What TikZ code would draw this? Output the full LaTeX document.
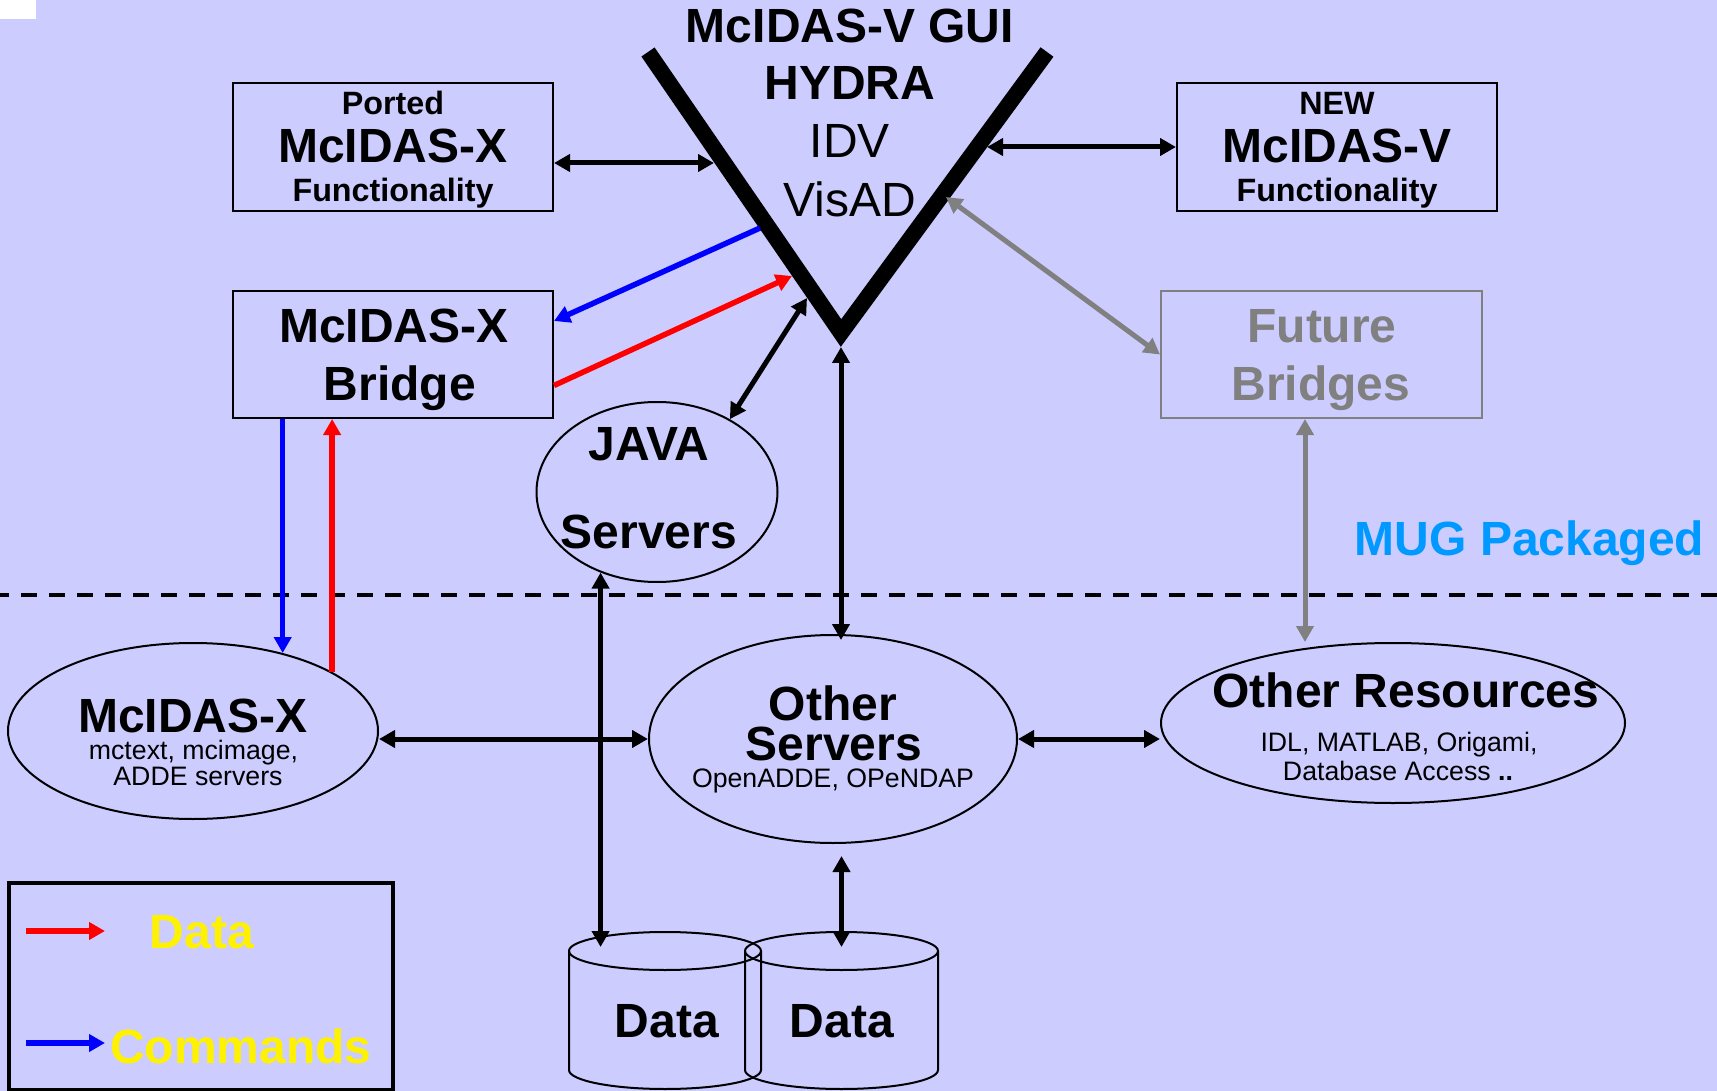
\documentclass[tikz,border=0pt]{standalone}
\usepackage{fontspec}
\setmainfont{Liberation Sans}
\usetikzlibrary{arrows.meta,shapes.geometric}
\definecolor{bgc}{RGB}{204,204,255}
\definecolor{mugblue}{RGB}{0,153,255}
\definecolor{fgray}{RGB}{128,128,128}
\newcommand\fsz[1]{\fontsize{#1}{#1}\selectfont}
\begin{document}
\begin{tikzpicture}[x=1pt,y=-1pt,
  >={Triangle[length=16pt,width=17pt]},
  txt/.style={inner sep=0pt, anchor=base},
  bld/.style={txt, font=\fsz{48}\bfseries},
  reg/.style={txt, font=\fsz{48}},
  mid/.style={txt, font=\fsz{32.3}\bfseries},
  sml/.style={txt, font=\fsz{26.7}},
  boxn/.style={draw, line width=2pt, inner sep=0pt, minimum width=320pt, minimum height=128pt},
  ell/.style={ellipse, draw, line width=2pt, inner sep=0pt},
  conn/.style={line width=5pt, <->},
  gconn/.style={line width=5pt, <->, draw=fgray, fill=fgray},
  cmd/.style={line width=5.5pt, ->, draw=blue, fill=blue},
  dat/.style={line width=5.5pt, ->, draw=red, fill=red},
  cyl/.style={line width=2pt}]

\fill[bgc] (0,0) rectangle (1717,1091);
\useasboundingbox (0,0) rectangle (1717,1091);
\fill[white] (0,0) rectangle (36,19);

% dashed boundary
\draw[line width=4pt, dash pattern=on 16pt off 12pt, dash phase=7pt] (0,595) -- (1717,595);

% boxes
\node[boxn] (ported) at (393,147) {};
\node[mid] (tporta) at (393,115) {Ported};
\node[bld] (tportb) at (393,163) {McIDAS-X};
\node[mid] (tportc) at (393,202) {Functionality};

\node[boxn] (newbox) at (1337,147) {};
\node[mid] (tnewa) at (1337,115) {NEW};
\node[bld] (tnewb) at (1337,163) {McIDAS-V};
\node[mid] (tnewc) at (1337,202) {Functionality};

\node[boxn, minimum height=127pt] (bridge) at (393,354.5) {};
\node[bld] (tbra) at (394,343) {McIDAS-X};
\node[bld] (tbrb) at (400,400) {Bridge};

\node[boxn, draw=fgray, minimum width=321pt, minimum height=127pt] (future) at (1321.5,354.5) {};
\node[bld, text=fgray] (tfua) at (1322,343) {Future};
\node[bld, text=fgray] (tfub) at (1321,400) {Bridges};

% V gui
\coordinate (vl) at (648,52);
\coordinate (vb) at (841,333);
\coordinate (vr) at (1047,52);
\draw[line width=16pt, line join=miter, miter limit=10] (vl) -- (vb) -- (vr);
\node[bld] (tva) at (850,43) {McIDAS-V GUI};
\node[bld] (tvb) at (850,100) {HYDRA};
\node[reg] (tvc) at (850,158) {IDV};
\node[reg] (tvd) at (850,217) {VisAD};

\coordinate (armP) at (714,163);
\coordinate (armN) at (987,147);
\coordinate (armB) at (760,228);
\coordinate (armR) at (792,276);
\coordinate (armJ) at (807,298);
\coordinate (armG) at (946,197);
\coordinate (vtip) at (841,347);

% ellipses
\node[ell, minimum width=241pt, minimum height=180pt] (java) at (657,492) {};
\node[bld] (tja) at (649,460) {JAVA};
\node[bld] (tjb) at (649,548) {Servers};

\node[ell, minimum width=370pt, minimum height=176pt] (mcx) at (193,731) {};
\node[bld] (tmxa) at (193,732) {McIDAS-X};
\node[sml] (tmxb) at (193.5,759) {mctext, mcimage,};
\node[sml] (tmxc) at (198,785) {ADDE servers};

\node[ell, minimum width=368pt, minimum height=208pt] (osrv) at (833,739) {};
\node[bld] (tosa) at (833,720) {Other};
\node[bld] (tosb) at (834,760) {Servers};
\node[sml] (tosc) at (833,787) {OpenADDE, OPeNDAP};

\node[ell, minimum width=464pt, minimum height=160pt] (ores) at (1393,723) {};
\node[bld] (tora) at (1406,707) {Other Resources};
\node[sml] (torb) at (1399,751) {IDL, MATLAB, Origami,};
\node[sml] (torc) at (1398,780) {Database Access \textbf{..}};

% data cylinders
\coordinate (dLtop) at (665,951);
\coordinate (dRtop) at (841.5,951);
\draw[cyl] (dLtop) ellipse [x radius=96pt, y radius=19pt];
\draw[cyl] (569,951) -- (569,1070) arc[start angle=180, end angle=360, x radius=96pt, y radius=19pt] -- (761,951);
\draw[cyl] (dRtop) ellipse [x radius=96.5pt, y radius=19pt];
\draw[cyl] (745,951) -- (745,1070) arc[start angle=180, end angle=360, x radius=96.5pt, y radius=19pt] -- (938,951);
\node[bld] (tdl) at (667,1037) {Data};
\node[bld] (tdr) at (842,1037) {Data};

% connectors
\draw[conn] (ported.east |- armP) -- (armP);
\draw[conn] (armN) -- (newbox.west);
\draw[cmd] (armB) -- ([yshift=33.5pt]bridge.east);
\draw[dat] ([yshift=-31pt]bridge.east) -- (armR);
\draw[conn] (armJ) -- (java.45);
\draw[conn, shorten >=-6pt] (vtip) -- (vtip |- osrv.north);
\draw[gconn] (armG) -- (future.west);
\draw[gconn] ([xshift=-16.5pt]future.south) -- ([xshift=-16.5pt]future.south |- ores.north);
\draw[cmd] (bridge.south -| mcx.41) -- (mcx.41);
\draw[dat] (mcx.23) -- (bridge.south -| mcx.23);
\draw[conn] (mcx.east |- osrv.west) -- (osrv.west);
\draw[conn] (osrv.east) -- (ores.west |- osrv.east);
\draw[conn, shorten >=4pt] (java.235) -- (java.235 |- dLtop);
\draw[conn, shorten <=12pt, shorten >=4pt] (dRtop |- osrv.south) -- (dRtop);

% MUG label
\node[bld, text=mugblue] (mug) at (1529.5,555) {MUG Packaged};

% legend
\node[draw, line width=3.5pt, inner sep=0pt, minimum width=384pt, minimum height=207pt] (legend) at (201,986.5) {};
\coordinate (lgR1) at (26,931);
\coordinate (lgR2) at (105,931);
\coordinate (lgB1) at (26,1043);
\coordinate (lgB2) at (105,1043);
\draw[dat] (lgR1) -- (lgR2);
\draw[cmd] (lgB1) -- (lgB2);
\node[bld, text=yellow] (lgdata) at (202,948) {Data};
\node[bld, text=yellow] (lgcmd) at (241,1063) {Commands};
\end{tikzpicture}
\end{document}
